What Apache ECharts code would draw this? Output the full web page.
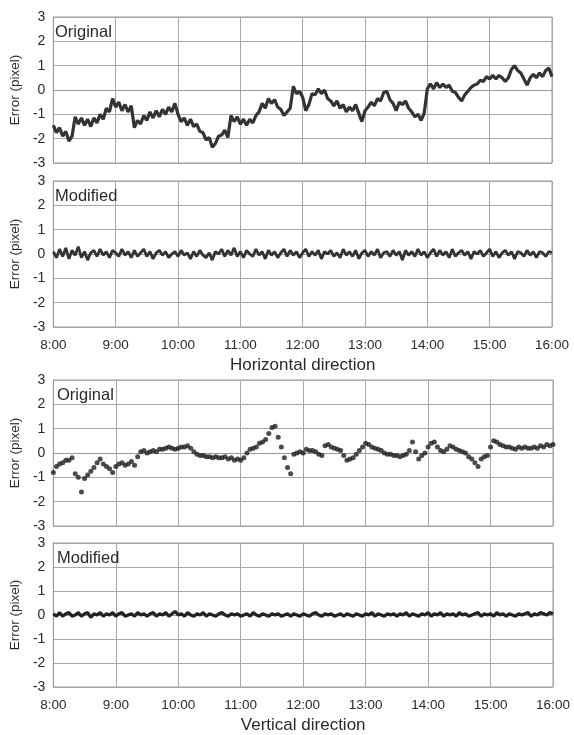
<!DOCTYPE html>
<html>
<head>
<meta charset="utf-8">
<script src="https://cdn.jsdelivr.net/npm/echarts@6/dist/echarts.min.js"></script>
<style>
  html, body { margin: 0; padding: 0; background: #fff; }
  #chart { width: 574px; height: 735px; }
</style>
</head>
<body>
<div id="chart"></div>
<script>
// sampling grid: minutes after 8:00, every 3 minutes
const STEP = 3;
const TIMES = Array.from({ length: 161 }, (_, i) => i * STEP);
const HOUR_LABELS = ['8:00', '9:00', '10:00', '11:00', '12:00', '13:00', '14:00', '15:00', '16:00'];

// horizontal direction, original
const H_ORIGINAL = [
  -1.45, -1.75, -1.55, -1.9, -1.7, -2.1, -1.9, -1.1, -1.4, -1.15,
  -1.45, -1.2, -1.5, -1.15, -1.35, -1.0, -1.2, -0.75, -0.9, -0.35,
  -0.7, -0.5, -0.85, -0.6, -0.9, -0.65, -1.55, -1.25, -1.4, -1.05,
  -1.25, -0.9, -1.15, -0.85, -1.1, -0.8, -1.0, -0.7, -0.9, -0.55,
  -1.0, -1.3, -1.15, -1.45, -1.2, -1.5, -1.4, -1.7, -1.75, -2.05,
  -1.95, -2.35, -2.2, -1.9, -1.85, -1.65, -1.95, -1.05, -1.3, -1.1,
  -1.4, -1.2, -1.45, -1.2, -1.35, -1.05, -0.9, -0.55, -0.75, -0.35,
  -0.55, -0.4, -0.7, -0.8, -1.05, -0.9, -0.75, 0.15, -0.15, -0.05,
  -0.3, -0.85, -0.6, -0.15, -0.2, 0.05, -0.15, 0.0, -0.35, -0.45,
  -0.65, -0.45, -0.75, -0.6, -0.9, -0.7, -0.85, -0.6, -0.95, -1.3,
  -0.85, -0.7, -0.5, -0.65, -0.35, -0.45, -0.1, -0.05, -0.4, -0.55,
  -0.85, -0.5, -0.6, -0.45, -0.75, -0.9, -1.1, -1.0, -1.25, -0.95,
  0.05, 0.25, 0.05, 0.3, 0.1, 0.25, 0.1, 0.2, -0.05, -0.1,
  -0.3, -0.45, -0.2, -0.05, 0.1, 0.2, 0.25, 0.4, 0.35, 0.55,
  0.45, 0.6, 0.45, 0.6, 0.5, 0.35, 0.5, 0.85, 1.0, 0.8,
  0.7, 0.45, 0.2, 0.5, 0.65, 0.5, 0.7, 0.55, 0.8, 0.9,
  0.55
];

// horizontal direction, modified
const H_MODIFIED = [
  0.1, -0.15, 0.2, -0.1, 0.25, -0.2, 0.15, -0.05, 0.3, -0.15,
  0.1, -0.25, 0.05, 0.15, -0.1, 0.2, -0.05, 0.1, -0.15, 0.15,
  0.05, -0.1, 0.2, -0.05, 0.1, -0.15, 0.15, -0.1, 0.05, 0.2,
  -0.1, 0.1, -0.2, 0.05, 0.15, -0.05, 0.1, -0.15, 0.0, 0.1,
  -0.1, 0.15, -0.05, 0.05, -0.2, 0.1, -0.1, 0.15, -0.05, -0.15,
  0.05, -0.25, 0.1, 0.0, 0.2, -0.1, 0.15, -0.05, 0.25, -0.1,
  0.1, -0.15, 0.15, 0.0, -0.1, 0.2, -0.05, 0.1, -0.2, 0.15,
  -0.05, 0.1, -0.15, 0.05, 0.2, -0.1, 0.15, -0.05, 0.1, -0.15,
  0.05, 0.2, -0.1, 0.1, -0.05, 0.15, -0.2, 0.1, 0.0, 0.15,
  -0.1, 0.05, -0.15, 0.2, -0.05, 0.1, -0.1, 0.15, -0.2, 0.05,
  0.15, -0.1, 0.1, -0.05, 0.2, -0.15, 0.05, 0.1, -0.1, 0.15,
  -0.05, 0.1, -0.25, 0.15, -0.05, 0.1, -0.1, 0.2, -0.05, 0.1,
  -0.15, 0.05, 0.2, -0.1, 0.15, -0.05, 0.1, -0.15, 0.2, -0.1,
  0.05, 0.15, -0.05, 0.1, -0.2, 0.1, 0.0, 0.15, -0.1, 0.05,
  0.2, -0.1, 0.1, -0.15, 0.05, 0.15, -0.05, 0.1, -0.2, 0.1,
  0.05, -0.1, 0.15, -0.05, 0.1, -0.15, 0.1, 0.05, -0.1, 0.1,
  0.05
];

// vertical direction, original (plotted as dots)
const V_ORIGINAL = [
  -0.8, -0.55, -0.45, -0.4, -0.3, -0.3, -0.2, -0.85, -1.0, -1.6,
  -1.05, -0.9, -0.75, -0.6, -0.4, -0.25, -0.45, -0.55, -0.65, -0.8,
  -0.55, -0.45, -0.4, -0.5, -0.45, -0.35, -0.5, -0.15, 0.05, 0.1,
  0.0, 0.05, 0.1, 0.05, 0.15, 0.15, 0.2, 0.25, 0.2, 0.15,
  0.2, 0.25, 0.25, 0.3, 0.2, 0.05, -0.05, -0.1, -0.1, -0.15,
  -0.15, -0.2, -0.15, -0.2, -0.2, -0.15, -0.25, -0.2, -0.3, -0.25,
  -0.3, -0.2, 0.0, 0.15, 0.2, 0.25, 0.4, 0.45, 0.55, 0.8,
  1.05, 1.1, 0.65, 0.25, -0.2, -0.6, -0.85, -0.05, 0.0, 0.05,
  0.0, 0.15, 0.1, 0.1, 0.05, -0.05, -0.1, 0.3, 0.35, 0.25,
  0.2, 0.15, 0.1, -0.1, -0.3, -0.25, -0.2, -0.05, 0.1, 0.25,
  0.4, 0.35, 0.25, 0.2, 0.15, 0.1, 0.0, -0.05, -0.05, -0.1,
  -0.1, -0.15, -0.1, -0.05, 0.1, 0.45, 0.05, -0.25, -0.1, 0.0,
  0.25, 0.4, 0.45, 0.25, 0.1, 0.05, 0.15, 0.3, 0.25, 0.15,
  0.1, 0.05, 0.0, -0.15, -0.25, -0.4, -0.55, -0.25, -0.15, -0.1,
  0.25, 0.5, 0.45, 0.35, 0.3, 0.25, 0.25, 0.2, 0.15, 0.25,
  0.2, 0.25, 0.2, 0.2, 0.25, 0.2, 0.3, 0.25, 0.35, 0.3,
  0.35
];

// vertical direction, modified
const V_MODIFIED = [
  0.05, -0.05, 0.1, -0.05, 0.05, 0.1, -0.05, 0.0, 0.1, -0.05,
  0.05, 0.1, -0.1, 0.05, 0.0, 0.1, -0.05, 0.05, 0.0, 0.1,
  -0.05, 0.05, 0.1, -0.05, 0.0, 0.05, -0.05, 0.1, 0.0, 0.05,
  -0.05, 0.05, 0.1, -0.05, 0.05, 0.0, 0.1, -0.05, 0.05, 0.15,
  0.0, 0.05, -0.05, 0.1, 0.0, -0.05, 0.05, 0.0, 0.1, -0.05,
  0.05, 0.0, -0.05, 0.05, 0.1, 0.0, -0.05, 0.05, 0.0, 0.05,
  -0.05, 0.0, 0.05, -0.05, 0.1, 0.0, -0.05, 0.05, 0.0, -0.05,
  0.05, 0.0, 0.05, -0.05, 0.0, 0.05, -0.05, 0.05, 0.0, -0.05,
  0.05, 0.0, -0.05, 0.05, 0.1, 0.0, -0.05, 0.05, 0.0, 0.05,
  -0.05, 0.0, 0.05, -0.05, 0.05, 0.0, -0.05, 0.05, 0.0, -0.05,
  0.05, 0.0, 0.1, -0.05, 0.05, 0.0, -0.05, 0.05, 0.0, 0.05,
  -0.05, 0.05, 0.0, 0.1, -0.05, 0.05, 0.0, -0.05, 0.05, 0.0,
  0.1, -0.05, 0.05, 0.0, 0.1, -0.05, 0.05, 0.0, 0.05, -0.05,
  0.1, 0.0, 0.05, -0.05, 0.0, 0.05, 0.1, -0.05, 0.05, 0.0,
  0.05, -0.05, 0.1, 0.0, 0.05, -0.05, 0.05, 0.0, -0.05, 0.05,
  0.0, 0.05, 0.1, -0.05, 0.05, 0.0, 0.1, 0.05, 0.0, 0.1,
  0.05
];

const FONT = '"Liberation Sans", Arial, sans-serif';
const TXT = '#2a2a2a';
const GRIDLINE = '#a8a8a8';

const panels = [
  { left: 49, right: 22, top: 17, label: 'Original', labels: false, name: '' },
  { left: 49, right: 22, top: 181, label: 'Modified', labels: true, name: 'Horizontal direction' },
  { left: 51, right: 21, top: 380, label: 'Original', labels: false, name: '' },
  { left: 51, right: 21, top: 543, label: 'Modified', labels: true, name: 'Vertical direction' }
];
const PANEL_H = 146;

const chart = echarts.init(document.getElementById('chart'));

const pairs = vals => TIMES.map((t, i) => [t, vals[i]]);

chart.setOption({
  animation: false,
  textStyle: { fontFamily: FONT },
  title: panels.map(p => ({
    text: p.label,
    left: p.left + 1,
    top: p.top + 2,
    textStyle: { fontFamily: FONT, fontSize: 16.5, fontWeight: 'normal', color: TXT }
  })),
  grid: panels.map(p => ({
    left: p.left, right: p.right, top: p.top, height: PANEL_H,
    show: true, borderColor: '#999', borderWidth: 1, containLabel: false
  })),
  xAxis: panels.map((p, k) => ({
    type: 'value', gridIndex: k, min: 0, max: 480, interval: 60,
    name: p.name, nameLocation: 'middle', nameGap: 30,
    nameTextStyle: { fontFamily: FONT, fontSize: 17, color: TXT },
    axisLine: { show: true, lineStyle: { color: '#999' } },
    axisTick: { show: false },
    axisLabel: {
      show: p.labels, margin: 11, fontSize: 13.5, color: TXT, fontFamily: FONT,
      formatter: v => HOUR_LABELS[v / 60]
    },
    splitLine: { show: true, lineStyle: { color: GRIDLINE, width: 1 } }
  })),
  yAxis: panels.map((p, k) => ({
    type: 'value', gridIndex: k, min: -3, max: 3, interval: 1,
    name: 'Error (pixel)', nameLocation: 'middle', nameGap: 29, nameRotate: 90,
    nameTextStyle: { fontFamily: FONT, fontSize: 13.5, color: TXT },
    axisLine: { show: true, lineStyle: { color: '#999' } },
    axisTick: { show: false },
    axisLabel: { margin: 8, fontSize: 14, color: TXT, fontFamily: FONT },
    splitLine: { show: true, lineStyle: { color: GRIDLINE, width: 1 } }
  })),
  series: [
    {
      type: 'line', xAxisIndex: 0, yAxisIndex: 0, data: pairs(H_ORIGINAL),
      showSymbol: false, lineStyle: { color: '#333', width: 3.2 }
    },
    {
      type: 'line', xAxisIndex: 1, yAxisIndex: 1, data: pairs(H_MODIFIED),
      showSymbol: false, lineStyle: { color: '#333', width: 2.8 }
    },
    {
      type: 'scatter', xAxisIndex: 2, yAxisIndex: 2, data: pairs(V_ORIGINAL),
      symbolSize: 5, itemStyle: { color: '#1e1e1e' }
    },
    {
      type: 'line', xAxisIndex: 3, yAxisIndex: 3, data: pairs(V_MODIFIED),
      showSymbol: false, lineStyle: { color: '#222', width: 3.2 }
    }
  ]
});
</script>
</body>
</html>
